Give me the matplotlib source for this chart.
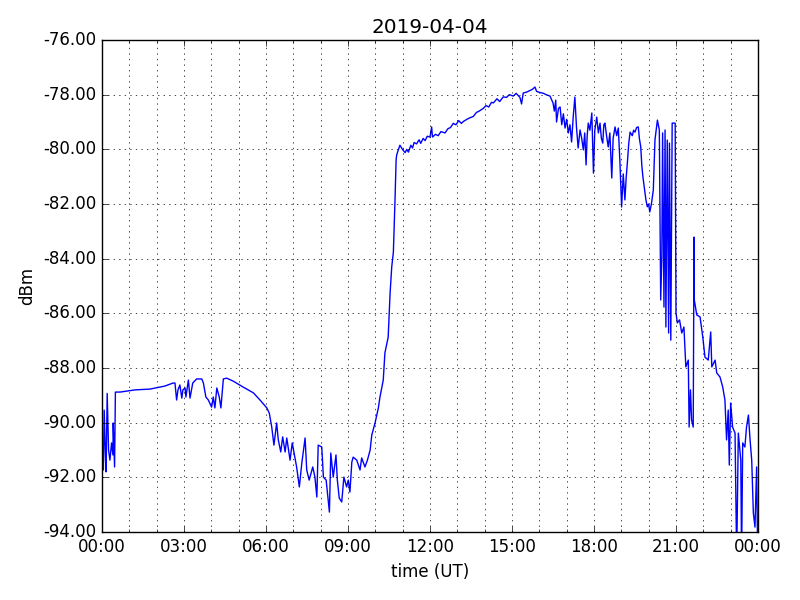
import datetime as dt
import matplotlib
matplotlib.use('Agg')
from matplotlib import pyplot as plt
import matplotlib.dates as mdates
from matplotlib.ticker import FormatStrFormatter

# signal level readings (hours since midnight UT, dBm), split into parts of the day
night_h = [0.00, 0.05, 0.08, 0.13, 0.15, 0.19, 0.24, 0.29, 0.35, 0.40, 0.41, 0.46, 0.49,
           0.66, 1.21, 1.76, 2.30, 2.60,
           2.67, 2.73, 2.78, 2.85, 2.92, 2.96, 3.04, 3.07, 3.16, 3.22, 3.32, 3.46, 3.65,
           3.71, 3.80, 3.89, 4.01, 4.07, 4.13, 4.20, 4.29, 4.35, 4.44, 4.56, 4.80, 5.17,
           5.54, 5.78, 6.03, 6.12, 6.21, 6.29, 6.39, 6.45, 6.54, 6.61, 6.70, 6.76, 6.88,
           6.96, 7.04, 7.12, 7.22, 7.31, 7.43, 7.49, 7.58, 7.71, 7.79, 7.86, 7.91, 8.04,
           8.10, 8.20, 8.32, 8.37, 8.46, 8.56, 8.61, 8.68, 8.77, 8.85, 8.95, 9.01, 9.07,
           9.14, 9.19, 9.32, 9.44, 9.50, 9.62, 9.71, 9.81, 9.87, 9.99, 10.11, 10.17, 10.29,
           10.35, 10.47, 10.54, 10.60, 10.66, 10.72, 10.76, 10.78]
night_db = [-91.18, -91.73, -89.54, -91.37, -91.80, -88.93, -91.00, -91.37, -90.74, -91.18,
            -90.01, -91.62, -88.88,
            -88.88, -88.80, -88.77, -88.66, -88.55,
            -88.55, -89.17, -88.80, -88.62, -89.10, -88.80, -88.73, -89.06, -88.44, -89.10,
            -88.55, -88.40, -88.40, -88.55, -89.06, -89.17, -89.43, -89.06, -89.46, -88.73,
            -89.06, -89.46, -88.40, -88.37, -88.48, -88.70, -88.91, -89.17, -89.46, -89.65,
            -90.16, -90.82, -90.01, -90.63, -91.07, -90.52, -91.07, -90.56, -91.37, -90.74,
            -91.18, -91.62, -92.35, -91.48, -90.56, -91.73, -92.10, -91.62, -91.99, -92.72,
            -90.82, -90.89, -91.99, -92.10, -93.27, -91.11, -91.99, -91.18, -92.10, -92.76,
            -92.90, -91.99, -92.35, -92.10, -92.54, -91.44, -91.26, -91.37, -91.73, -91.29,
            -91.62, -91.37, -91.00, -90.45, -90.01, -89.46, -89.06, -88.44, -87.45, -86.87,
            -85.26, -84.30, -83.76, -81.85, -80.39, -80.21]

day_h = [10.84, 10.90, 10.96, 11.03, 11.09, 11.15, 11.21, 11.30, 11.36, 11.42,
         11.51, 11.60, 11.66, 11.75, 11.82, 11.90, 12.00, 12.06, 12.09, 12.20,
         12.30, 12.40, 12.55, 12.65, 12.75, 12.85, 12.95, 13.05, 13.15, 13.22,
         13.35, 13.45, 13.58, 13.70, 13.80, 13.95, 14.05, 14.15, 14.25, 14.32,
         14.45, 14.55, 14.68, 14.80, 14.90, 15.05, 15.15, 15.29, 15.35, 15.41,
         15.55, 15.65, 15.75, 15.84, 15.90, 16.02, 16.15, 16.25, 16.39]
day_db = [-80.02, -79.85, -79.95, -80.05, -80.12, -80.00, -80.10, -79.85, -79.95, -79.75,
          -79.80, -79.65, -79.78, -79.60, -79.68, -79.52, -79.55, -79.18, -79.55, -79.45,
          -79.50, -79.35, -79.40, -79.25, -79.20, -79.05, -79.10, -78.95, -79.05, -78.98,
          -78.90, -78.85, -78.80, -78.65, -78.60, -78.50, -78.40, -78.45, -78.28, -78.30,
          -78.15, -78.25, -78.08, -78.10, -78.00, -78.05, -77.95, -78.10, -78.34, -77.94,
          -77.90, -77.85, -77.80, -77.72, -77.88, -77.92, -77.95, -78.00, -78.05]

eve_h = [16.50, 16.55, 16.60, 16.63, 16.70, 16.76, 16.82, 16.88, 16.94, 17.00,
         17.06, 17.12, 17.18, 17.24, 17.30, 17.36, 17.42, 17.49, 17.55, 17.61,
         17.66, 17.71, 17.75, 17.79, 17.85, 17.92, 17.98, 18.03, 18.10, 18.16,
         18.22, 18.27, 18.32, 18.36, 18.40, 18.46, 18.52, 18.58, 18.65, 18.70,
         18.77, 18.83, 18.89, 18.95, 19.01, 19.07, 19.13, 19.18, 19.22, 19.27,
         19.32, 19.40, 19.45, 19.50, 19.56, 19.62, 19.66, 19.71, 19.75, 19.79,
         19.84, 19.90, 19.95, 20.00, 20.04, 20.10, 20.17]
eve_db = [-78.30, -78.60, -78.20, -79.00, -78.50, -78.45, -79.10, -78.70, -79.22, -78.90,
          -79.40, -79.10, -79.73, -78.80, -78.09, -79.20, -79.95, -79.29, -79.60, -80.02,
          -79.40, -80.57, -79.50, -79.04, -79.30, -78.67, -80.87, -79.30, -78.82, -79.40,
          -79.04, -79.60, -79.77, -79.10, -79.04, -79.50, -79.91, -79.40, -81.05, -79.60,
          -79.18, -79.50, -79.22, -80.50, -82.11, -80.90, -81.85, -81.00, -80.50, -79.80,
          -79.37, -79.50, -79.30, -79.37, -79.20, -79.18, -79.60, -79.91, -80.60, -81.01,
          -81.40, -81.85, -82.10, -82.00, -82.29, -82.00, -81.49]

# readings below -94 dBm fall off the bottom of the plot
late_h = [20.23, 20.32, 20.39, 20.44, 20.48, 20.51, 20.56, 20.60, 20.63, 20.68,
          20.73, 20.76, 20.81, 20.86, 20.97, 21.00, 21.05, 21.13, 21.21, 21.29,
          21.36, 21.45, 21.48, 21.53, 21.57, 21.63, 21.66, 21.67, 21.76, 21.88,
          21.98, 22.06, 22.18, 22.27, 22.31, 22.43, 22.49, 22.61, 22.71, 22.79,
          22.85, 22.91, 22.95, 23.00, 23.07, 23.16, 23.22, 23.28, 23.37, 23.40,
          23.44, 23.52, 23.58, 23.65, 23.71, 23.77, 23.83, 23.89, 23.95, 23.99]
late_db = [-79.66, -78.93, -79.29, -85.51, -84.05, -79.40, -85.77, -79.29, -86.50, -79.66,
           -86.72, -79.77, -86.98, -79.04, -79.04, -85.99, -86.35, -86.24, -86.72, -86.50,
           -87.96, -87.71, -90.16, -88.80, -89.90, -90.16, -83.21, -85.51, -86.06, -86.13,
           -86.87, -87.60, -87.71, -86.68, -87.96, -87.71, -88.18, -88.33, -88.70, -89.17,
           -90.63, -89.54, -91.55, -89.28, -90.16, -90.38, -95.00, -90.38, -91.37, -95.00,
           -90.74, -90.89, -90.16, -89.72, -90.63, -91.37, -93.31, -93.82, -91.62, -95.00]

hours = night_h + day_h + eve_h + late_h
dbm = night_db + day_db + eve_db + late_db

day = dt.datetime(2019, 4, 4)
times = [day + dt.timedelta(hours=h) for h in hours]

plt.style.use('classic')
fig = plt.figure(figsize=(8, 6), dpi=100, facecolor='white')
ax = fig.add_subplot(111)
fig.subplots_adjust(left=0.1275, right=0.9475, top=0.9333, bottom=0.1133)

ax.plot(times, dbm, color='b', linewidth=1.0)

ax.set_xlim(day, day + dt.timedelta(days=1))
ax.set_ylim(-94, -76)
ax.xaxis.set_major_locator(mdates.HourLocator(interval=3))
ax.xaxis.set_minor_locator(mdates.HourLocator())
ax.xaxis.set_major_formatter(mdates.DateFormatter('%H:%M'))
ax.yaxis.set_major_formatter(FormatStrFormatter('%.2f'))

ax.grid(True, which='major', linestyle=':', color='k', linewidth=0.5)
ax.grid(True, which='minor', axis='x', linestyle=':', color='k', linewidth=0.5)

ax.set_title('2019-04-04')
ax.set_xlabel('time (UT)')
ax.set_ylabel('dBm')

fig.savefig('out.png', dpi=100, facecolor='white')
